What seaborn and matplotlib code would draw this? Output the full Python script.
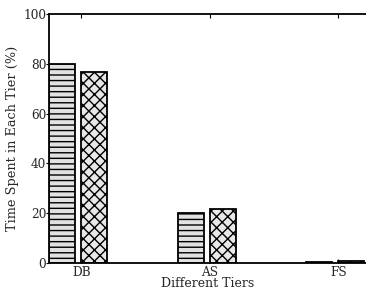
import matplotlib
matplotlib.use("Agg")
import matplotlib.pyplot as plt
import seaborn as sns
import pandas as pd
import numpy as np

tiers = ["DB", "AS", "FS"]
series_names = ["A", "B"]
values_a = [80.0, 20.1, 0.3]
values_b = [76.8, 21.5, 0.8]

df = pd.DataFrame({
    "tier": tiers * 2,
    "series": [series_names[0]] * 3 + [series_names[1]] * 3,
    "value": values_a + values_b,
})

sns.set_style("white")
plt.rcParams["font.family"] = ["DejaVu Serif"]
plt.rcParams["hatch.linewidth"] = 1.0

fig = plt.figure(figsize=(3.66, 2.90), dpi=100)
ax = fig.add_axes([49/366, 27/290, 318/366, 249/290])

sns.barplot(data=df, x="tier", y="value", hue="series", order=tiers,
            hue_order=series_names, palette=["#e2e2e2", "#e8e8e8"],
            width=0.5, gap=0.19, edgecolor="black", linewidth=1.3,
            legend=False, ax=ax)

hatches = ["---", "xxx"]
for i, container in enumerate(ax.containers):
    for p in container.patches:
        p.set_hatch(hatches[i])
        p.set_edgecolor("black")

ax.set_xlim(-0.228, 2.247)
ax.set_ylim(0, 100)
ax.set_yticks([0, 20, 40, 60, 80, 100])
ax.set_xticks(np.arange(len(tiers)) + 0.0235)
ax.set_xticklabels(tiers)
ax.set_xlabel("Different Tiers", fontsize=9, labelpad=-1)
ax.set_ylabel("Time Spent in Each Tier (%)", fontsize=9.3, labelpad=3)
ax.tick_params(axis="x", direction="in", length=3, top=True, bottom=True,
               labelsize=8.7, pad=2, color="black")
ax.tick_params(axis="y", direction="out", length=2, left=True,
               labelsize=8.7, pad=0, color="black")
for s in ["left", "top", "bottom"]:
    ax.spines[s].set_color("black")
    ax.spines[s].set_linewidth(1.3)
ax.spines["right"].set_visible(False)

fig.savefig("out.png", dpi=100)
